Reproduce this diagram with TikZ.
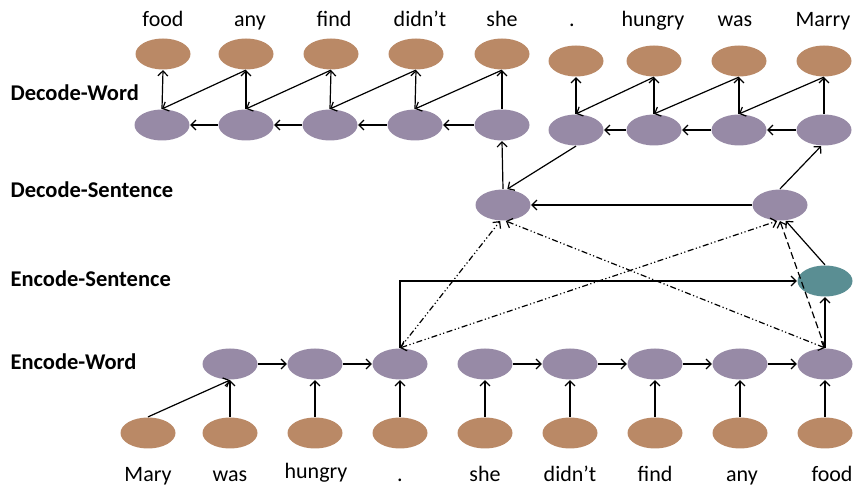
\documentclass[tikz,border=0pt]{standalone}
\usepackage{fontspec}
\setmainfont{Carlito}
\usetikzlibrary{shapes.geometric,arrows.meta}

\definecolor{wordbrown}{RGB}{186,137,102}
\definecolor{statepurple}{RGB}{151,138,166}
\definecolor{sentteal}{RGB}{90,142,147}

\tikzset{
    word/.style={ellipse, fill=wordbrown, minimum width=55pt, minimum height=31pt, inner sep=0pt},
    state/.style={ellipse, fill=statepurple, minimum width=55pt, minimum height=31pt, inner sep=0pt},
    sentstate/.style={ellipse, fill=sentteal, minimum width=55pt, minimum height=31pt, inner sep=0pt},
    lbl/.style={anchor=base, inner sep=0pt, font=\fontsize{22}{26}\selectfont},
    rowlbl/.style={anchor=west, inner sep=0pt, font=\bfseries\fontsize{22.5}{26}\selectfont},
    attn/.style={dash pattern=on 6pt off 2.5pt on 1.2pt off 2.5pt on 1.2pt off 2.5pt},
    longdash/.style={dash pattern=on 7pt off 3.5pt}
}

\begin{document}
\begin{tikzpicture}[x=1pt, y=1pt, line width=1.2pt, >={Straight Barb[length=5pt,width=10pt]}]
        \useasboundingbox (0,0) rectangle (857,490);

        \node[rowlbl](rowdw) at (10,397) {Decode-Word};
        \node[rowlbl](rowds) at (10,300) {Decode-Sentence};
        \node[rowlbl](rowes) at (10,211) {Encode-Sentence};
        \node[rowlbl](rowew) at (10,128) {Encode-Word};

        % encoder input words
        \node[word](ein1) at (148,57) {};
        \node[word](ein2) at (230,57) {};
        \node[word](ein3) at (315,57) {};
        \node[word](ein4) at (400,57) {};
        \node[word](ein5) at (485,57) {};
        \node[word](ein6) at (570,57) {};
        \node[word](ein7) at (655,57) {};
        \node[word](ein8) at (740,57) {};
        \node[word](ein9) at (825,57) {};

        \node[lbl](lin1) at (148,8) {Mary};
        \node[lbl](lin2) at (230,8) {was};
        \node[lbl](lin3) at (316,11) {hungry};
        \node[lbl](lin4) at (400,8) {.};
        \node[lbl](lin5) at (485,8) {she};
        \node[lbl](lin6) at (570,8) {didn’t};
        \node[lbl](lin7) at (655,8) {find};
        \node[lbl](lin8) at (742,8) {any};
        \node[lbl](lin9) at (832,8) {food};

        % encoder word states
        \node[state](enc2) at (230,126) {};
        \node[state](enc3) at (315,126) {};
        \node[state](enc4) at (400,126) {};
        \node[state](enc5) at (485,126) {};
        \node[state](enc6) at (570,126) {};
        \node[state](enc7) at (655,126) {};
        \node[state](enc8) at (740,126) {};
        \node[state](enc9) at (825,126) {};

        \node[sentstate](esent) at (825,209) {};
        \node[state](dsl) at (503,285) {};
        \node[state](dsr) at (780,285) {};

        % decoder word states and outputs
        \node[state](dec1) at (162,365) {};
        \node[state](dec2) at (246,365) {};
        \node[state](dec3) at (330,365) {};
        \node[state](dec4) at (415,365) {};
        \node[state](dec5) at (502,365) {};
        \node[state](dec6) at (576,360) {};
        \node[state](dec7) at (654,360) {};
        \node[state](dec8) at (739,360) {};
        \node[state](dec9) at (824,360) {};

        \node[word](out1) at (163,436) {};
        \node[word](out2) at (246,436) {};
        \node[word](out3) at (331,436) {};
        \node[word](out4) at (416,436) {};
        \node[word](out5) at (502,436) {};
        \node[word](out6) at (576,429) {};
        \node[word](out7) at (654,429) {};
        \node[word](out8) at (739,429) {};
        \node[word](out9) at (824,429) {};

        \node[lbl](lout1) at (163,463) {food};
        \node[lbl](lout2) at (250,463) {any};
        \node[lbl](lout3) at (334,463) {find};
        \node[lbl](lout4) at (420,463) {didn’t};
        \node[lbl](lout5) at (502,463) {she};
        \node[lbl](lout6) at (572,463) {.};
        \node[lbl](lout7) at (653,463) {hungry};
        \node[lbl](lout8) at (735,463) {was};
        \node[lbl](lout9) at (823,463) {Marry};

        \draw[->] (ein1.north) -- (enc2.south);
        \draw[->] (ein2.north) -- (enc2.south);
        \draw[->] (ein3.north) -- (enc3.south);
        \draw[->] (ein4.north) -- (enc4.south);
        \draw[->] (ein5.north) -- (enc5.south);
        \draw[->] (ein6.north) -- (enc6.south);
        \draw[->] (ein7.north) -- (enc7.south);
        \draw[->] (ein8.north) -- (enc8.south);
        \draw[->] (ein9.north) -- (enc9.south);

        \draw[->] (enc2) -- (enc3);
        \draw[->] (enc3) -- (enc4);
        \draw[->] (enc5) -- (enc6);
        \draw[->] (enc6) -- (enc7);
        \draw[->] (enc7) -- (enc8);
        \draw[->] (enc8) -- (enc9);

        \draw[->] (enc4.north) |- (esent.west);
        \draw[->] (enc9.north) -- (esent.south);
        \draw[->] (esent.north) -- (dsr.-70);
        \draw[->, longdash] (enc9.north) -- (dsr.south);
        \draw[<->, attn] (enc9.north) -- (dsl.-80);
        \draw[<->, attn] (enc4.north) -- (dsr.-100);
        \draw[->, attn] (enc4.north) -- (dsl.-100);

        \draw[->] (dsr) -- (dsl);
        \draw[->] (dsr.north) -- (dec9.-100);
        \draw[->] (dsl.north) -- (dec5.south);
        \draw[->] (dec6.south) -- (dsl.75);

        \draw[->] (dec1.north) -- (out1.south);
        \draw[->] (dec2.north) -- (out2.south);
        \draw[->] (dec3.north) -- (out3.south);
        \draw[->] (dec4.north) -- (out4.south);
        \draw[->] (dec5.north) -- (out5.south);
        \draw[->] (dec6.north) -- (out6.south);
        \draw[->] (dec7.north) -- (out7.south);
        \draw[->] (dec8.north) -- (out8.south);
        \draw[->] (dec9.north) -- (out9.south);

        \draw[->] (dec5) -- (dec4);
        \draw[->] (dec4) -- (dec3);
        \draw[->] (dec3) -- (dec2);
        \draw[->] (dec2) -- (dec1);
        \draw[->] (dec9) -- (dec8);
        \draw[->] (dec8) -- (dec7);
        \draw[->] (dec7) -- (dec6);

        \draw[->] (out2.south) -- (dec1.north);
        \draw[->] (out3.south) -- (dec2.north);
        \draw[->] (out4.south) -- (dec3.north);
        \draw[->] (out5.south) -- (dec4.north);
        \draw[->] (out7.south) -- (dec6.north);
        \draw[->] (out8.south) -- (dec7.north);
        \draw[->] (out9.south) -- (dec8.north);
    \end{tikzpicture}
\end{document}
